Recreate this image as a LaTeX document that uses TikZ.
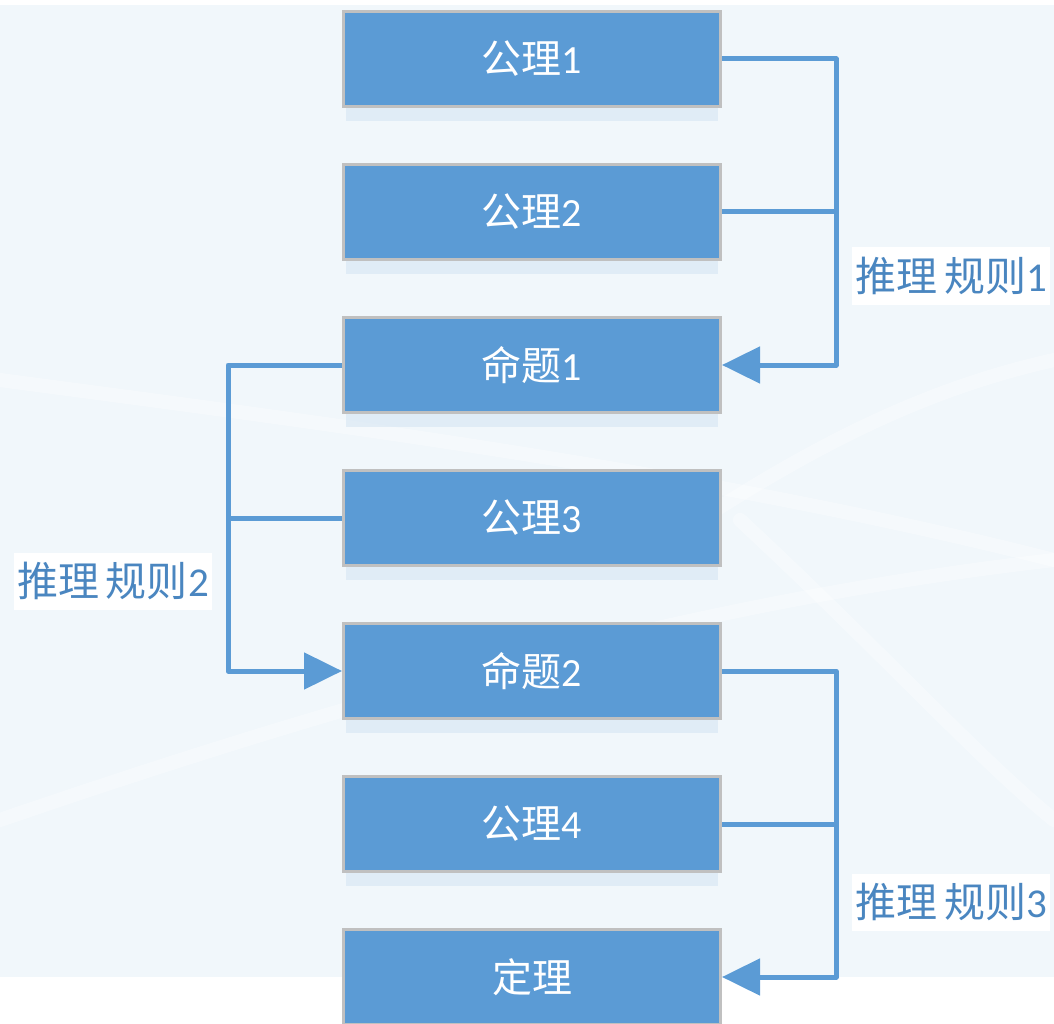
\documentclass[tikz,border=0pt]{standalone}
\usepackage{fontspec}
\setmainfont{Carlito}
\newfontfamily\cjk{Noto Sans CJK SC}
\usetikzlibrary{positioning,arrows.meta}
\definecolor{boxblue}{HTML}{5B9BD5}
\definecolor{boxgray}{HTML}{C0C0C0}
\definecolor{rulecol}{HTML}{4A86C0}
\definecolor{bgblue}{HTML}{F1F7FB}
\definecolor{glow}{HTML}{D6E6F3}
\tikzset{
	stepbox/.style={draw=boxgray, line width=3pt, fill=boxblue, text=white,
		minimum width=377pt, minimum height=95pt, inner sep=0pt,
		font=\fontsize{40}{44}\selectfont},
	rulelabel/.style={fill=white, text=rulecol, inner xsep=3pt, inner ysep=0pt,
		minimum height=57pt, font=\fontsize{41}{44}\selectfont},
	conn/.style={draw=boxblue, line width=5pt, line join=round},
	arr/.style={-{Triangle[length=38pt,width=36pt]}}
}
\begin{document}
\begin{tikzpicture}[x=1pt, y=1pt, node distance = 55pt]
\useasboundingbox (0,0) rectangle (1054,-1024);
% background
\fill[bgblue] (0,-5) rectangle (1054,-977);
\begin{scope}[white, opacity=0.35, line width=14pt, line cap=round]
 \draw (0,-380) .. controls (300,-420) and (700,-470) .. (1054,-560);
 \draw (640,-560) .. controls (800,-450) and (920,-390) .. (1054,-360);
 \draw (0,-820) .. controls (350,-700) and (700,-600) .. (1054,-560);
 \draw (740,-520) .. controls (880,-650) and (980,-760) .. (1054,-820);
\end{scope}
% soft glow under the boxes
\foreach \y in {59,212,...,824}
 \fill[glow, opacity=0.6] (346,-\y-49) rectangle (718,-\y-62);

	\node (ax1) [stepbox] at (532,-59) {{\cjk 公理}1};
 \node (ax2) [stepbox, below=of ax1] {{\cjk 公理}2};
 \node (pr1) [stepbox, below=of ax2] {{\cjk 命题}1};
 \node (ax3) [stepbox, below=of pr1] {{\cjk 公理}3};
 \node (pr2) [stepbox, below=of ax3] {{\cjk 命题}2};
 \node (ax4) [stepbox, below=of pr2] {{\cjk 公理}4};
 \node (thm) [stepbox, below=of ax4] {\cjk 定理};

 \coordinate (busR1) at (836,-59);
 \coordinate (busL) at (228,-365);
 \coordinate (busR2) at (836,-671);

 % rule 1
 \draw [conn] (ax1.east) -- (busR1) -- (busR1 |- ax2.east);
 \draw [conn] (ax2.east) -- (busR1 |- ax2.east);
 \draw [conn, arr] (busR1 |- ax2.east) -- (busR1 |- pr1.east) -- (pr1.east);
 % rule 2
 \draw [conn] (pr1.west) -- (busL) -- (busL |- ax3.west);
 \draw [conn] (ax3.west) -- (busL |- ax3.west);
 \draw [conn, arr] (busL |- ax3.west) -- (busL |- pr2.west) -- (pr2.west);
 % rule 3
 \draw [conn] (pr2.east) -- (busR2) -- (busR2 |- ax4.east);
 \draw [conn] (ax4.east) -- (busR2 |- ax4.east);
 \draw [conn, arr] (busR2 |- ax4.east) -- (busR2 |- thm.east) -- (thm.east);

 \node (rule1) [rulelabel] at (951,-276) {{\cjk 推理\,规则}1};
 \node (rule2) [rulelabel] at (113,-581) {{\cjk 推理\,规则}2};
 \node (rule3) [rulelabel] at (951,-902) {{\cjk 推理\,规则}3};
\end{tikzpicture}
\end{document}
